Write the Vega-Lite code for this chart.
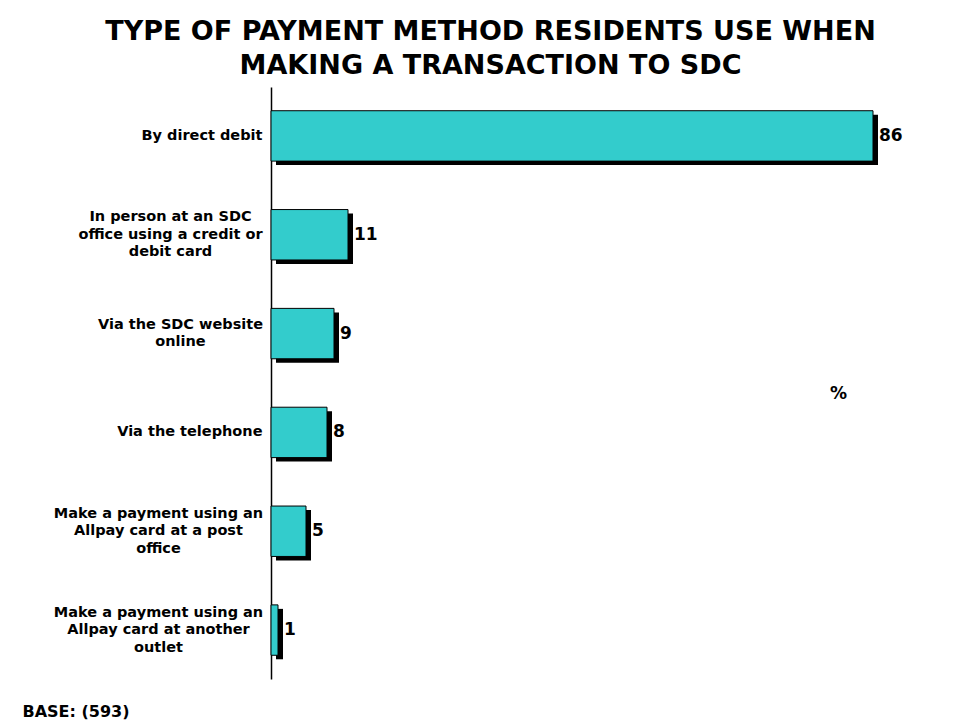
{
  "$schema": "https://vega.github.io/schema/vega-lite/v6.json",
  "width": 665,
  "height": 592,
  "autosize": {"type": "none"},
  "padding": {"left": 271, "top": 87, "right": 23, "bottom": 43},
  "background": "white",
  "title": {
    "text": ["TYPE OF PAYMENT METHOD RESIDENTS USE WHEN", "MAKING A TRANSACTION TO SDC"],
    "font": "DejaVu Sans",
    "fontSize": 27,
    "fontWeight": "bold",
    "lineHeight": 34,
    "anchor": "middle",
    "frame": "group",
    "dx": -113,
    "offset": 7,
    "color": "black"
  },
  "data": {
    "values": [
      {"method": "By direct debit", "pct": 86},
      {"method": "In person at an SDC\noffice using a credit or\ndebit card", "pct": 11},
      {"method": "Via the SDC website\nonline", "pct": 9},
      {"method": "Via the telephone", "pct": 8},
      {"method": "Make a payment using an\nAllpay card at a post\noffice", "pct": 5},
      {"method": "Make a payment using an\nAllpay card at another\noutlet", "pct": 1}
    ]
  },
  "encoding": {
    "y": {
      "field": "method",
      "type": "nominal",
      "sort": null,
      "scale": {"paddingInner": 0.49, "paddingOuter": 0.24},
      "axis": {
        "title": "%",
        "titleX": 567,
        "titleY": 306,
        "titleAngle": 0,
        "titleAlign": "center",
        "titleBaseline": "middle",
        "titleFont": "DejaVu Sans",
        "titleFontSize": 17,
        "titleFontWeight": "bold",
        "titleColor": "black",
        "labelFont": "DejaVu Sans",
        "labelFontSize": 14.5,
        "labelFontWeight": "bold",
        "labelColor": "black",
        "labelLineHeight": 17.5,
        "labelAlign": {"condition": {"test": "indexof(datum.value, '\\n') >= 0", "value": "center"}, "value": "right"},
        "labelOffset": {"condition": [
          {"test": "length(split(datum.value, '\\n')) == 3", "value": -17.5},
          {"test": "length(split(datum.value, '\\n')) == 2", "value": -8.75}
        ], "value": 0},
        "labelPadding": {"condition": [
          {"test": "indexof(datum.value, 'In person') == 0", "value": 101},
          {"test": "indexof(datum.value, 'Via the SDC') == 0", "value": 91},
          {"test": "indexof(datum.value, 'Make a payment') == 0", "value": 113}
        ], "value": 9},
        "labelLimit": 400,
        "ticks": false,
        "domainColor": "black",
        "domainWidth": 1.5,
        "labelExpr": "split(datum.label, '\\n')"
      }
    }
  },
  "layer": [
    {
      "mark": {"type": "bar", "color": "black", "xOffset": 5, "x2Offset": 5, "yOffset": 4, "y2Offset": 4},
      "encoding": {
        "x": {
          "field": "pct",
          "type": "quantitative",
          "scale": {"domain": [0, 95], "nice": false},
          "axis": {
            "title": "BASE: (593)",
            "domain": false,
            "ticks": false,
            "labels": false,
            "grid": false,
            "titleX": -249,
            "titleY": 37,
            "titleAlign": "left",
            "titleBaseline": "alphabetic",
            "titleFont": "DejaVu Sans",
            "titleFontSize": 16,
            "titleFontWeight": "bold",
            "titleColor": "black"
          }
        }
      }
    },
    {
      "mark": {"type": "bar", "fill": "#33CCCC", "stroke": "black", "strokeWidth": 1},
      "encoding": {"x": {"field": "pct", "type": "quantitative"}}
    },
    {
      "mark": {"type": "text", "align": "left", "baseline": "middle", "dx": 6, "font": "DejaVu Sans", "fontWeight": "bold", "fontSize": 17, "color": "black"},
      "encoding": {
        "x": {"field": "pct", "type": "quantitative"},
        "text": {"field": "pct", "type": "quantitative"}
      }
    }
  ],
  "config": {"view": {"stroke": null}}
}
